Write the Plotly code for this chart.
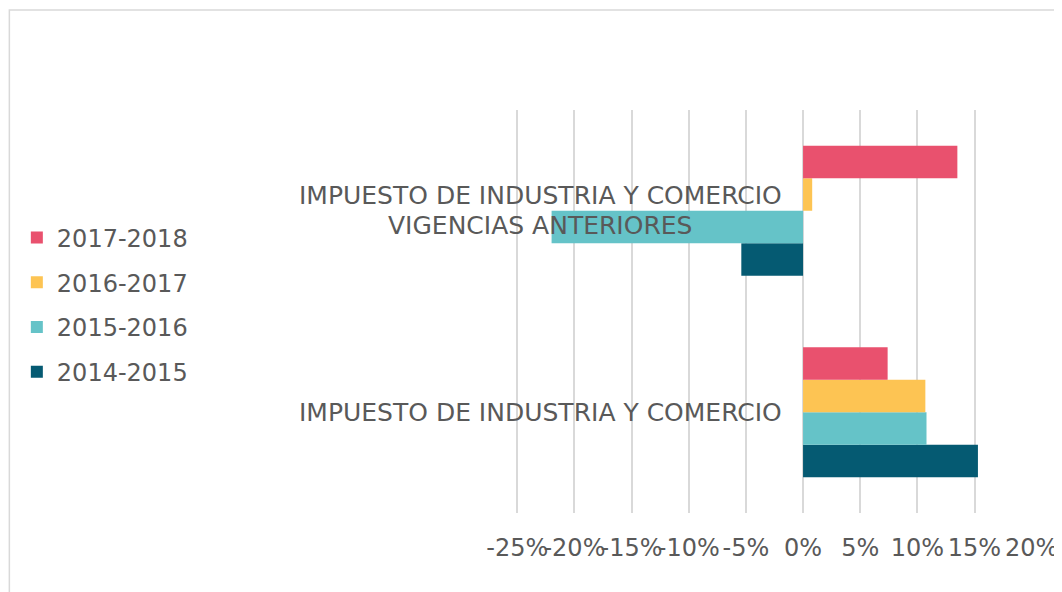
import plotly.graph_objects as go

categories = ["IMPUESTO DE INDUSTRIA Y COMERCIO",
              "IMPUESTO DE INDUSTRIA Y COMERCIO<br>VIGENCIAS ANTERIORES"]
series_names = ["2014-2015", "2015-2016", "2016-2017", "2017-2018"]
series_values = {
    "2014-2015": [0.153, -0.054],
    "2015-2016": [0.108, -0.220],
    "2016-2017": [0.107, 0.008],
    "2017-2018": [0.074, 0.135],
}
series_colors = {
    "2014-2015": "#055A72",
    "2015-2016": "#65C3C8",
    "2016-2017": "#FDC453",
    "2017-2018": "#E9516E",
}
tick_vals = [-0.25, -0.20, -0.15, -0.10, -0.05, 0, 0.05, 0.10, 0.15, 0.20]
tick_text = ["-25%", "-20%", "-15%", "-10%", "-5%", "0%", "5%", "10%", "15%", "20%"]

# page body has an 8px margin; figure is sized to fill the rest of the window
OFF = 8
W, H = 1062 - OFF, 592 - OFF
X_MIN, X_MAX = -0.252, 0.2003
PX_PER_UNIT = 1144.0
MR = 30
PW = (X_MAX - X_MIN) * PX_PER_UNIT
ML = W - MR - PW
MT, MB = 110 - OFF, 79
FONT = "Verdana, DejaVu Sans, sans-serif"
TXT = "#595959"
FS = 24
FS_CAT = 25
LINE = 30

fig = go.Figure()
n = len(series_names)
for i, name in enumerate(series_names):
    fig.add_trace(go.Bar(
        y=categories, x=series_values[name], name=name, orientation="h",
        marker=dict(color=series_colors[name], line=dict(width=0)),
        legendgroup=name, legendrank=n - i,
    ))

for cat in categories:
    lines = cat.split("<br>")
    m = len(lines)
    for k, ln in enumerate(lines):
        fig.add_annotation(x=0, y=cat, xref="x", yref="y", text=ln,
                           showarrow=False, xanchor="center", xshift=-263,
                           yshift=((m - 1) / 2 - k) * LINE,
                           font=dict(family=FONT, size=FS_CAT, color=TXT))

pw = PW
ph = H - MT - MB
fig.add_shape(type="rect", xref="paper", yref="paper",
              x0=(0.5 - ML) / pw, x1=(1070 - ML) / pw,
              y0=(H - 700 - MB) / ph, y1=(H - 2 - MB) / ph,
              line=dict(color="#d9d9d9", width=1.5), fillcolor="rgba(0,0,0,0)", layer="below")

fig.update_layout(
    width=W, height=H,
    margin=dict(l=ML, r=MR, t=MT, b=MB, autoexpand=False),
    barmode="group", bargap=0.355, bargroupgap=0,
    paper_bgcolor="white", plot_bgcolor="white",
    font=dict(family=FONT, size=FS, color=TXT),
    legend=dict(x=(8 - ML) / pw, xanchor="left", y=(H - MB - 297) / ph, yanchor="middle",
                traceorder="grouped", tracegroupgap=10.5,
                font=dict(family=FONT, size=FS, color=TXT), bgcolor="rgba(0,0,0,0)"),
    xaxis=dict(range=[X_MIN, X_MAX], tickvals=tick_vals, ticktext=tick_text,
               tickangle=0,
               showgrid=True, gridcolor="#d9d9d9", gridwidth=1.5,
               zeroline=True, zerolinecolor="#d9d9d9", zerolinewidth=1.5,
               showline=False, ticks="", ticklabelstandoff=18,
               tickfont=dict(family=FONT, size=FS, color=TXT)),
    yaxis=dict(showticklabels=False, showgrid=False, zeroline=False, showline=False,
               ticks=""),
)

fig.write_html("out.html")
